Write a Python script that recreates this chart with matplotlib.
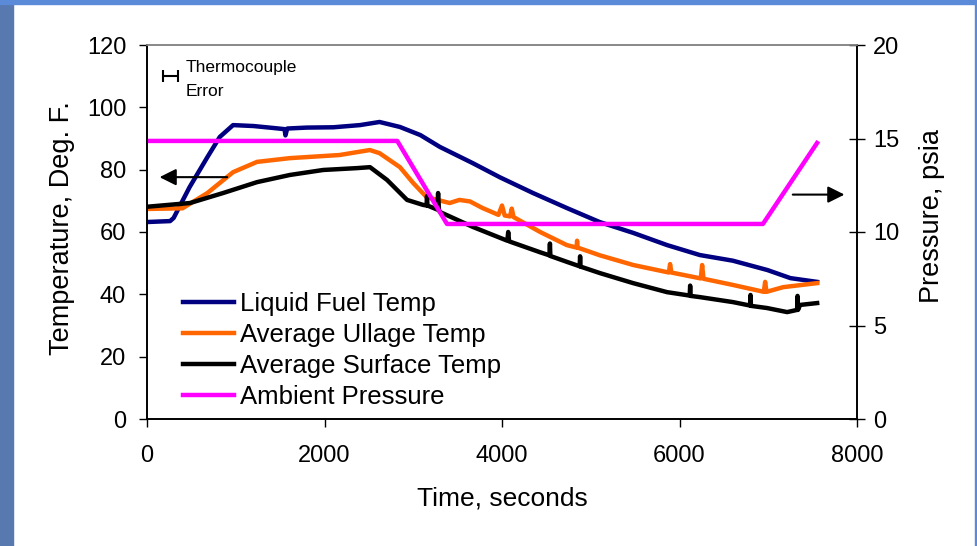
import matplotlib
matplotlib.use("Agg")
import matplotlib.pyplot as plt
from matplotlib.patches import Rectangle

plt.rcParams['font.family'] = ['Liberation Sans', 'DejaVu Sans']

# Liquid fuel temperature (deg F) vs time (s)
fuel_t = [0, 260, 300, 480, 680, 820, 970, 1200, 1450, 1550, 1560, 1580, 1800, 2100,
          2400, 2620, 2850, 3080, 3300, 3670, 3980, 4350, 4730, 5100, 5480, 5860,
          6230, 6600, 6990, 7250, 7550]
fuel_T = [63.2, 63.5, 64.5, 74.4, 84.0, 90.5, 94.3, 94.0, 93.3, 93.0, 91.0, 93.2, 93.5, 93.6,
          94.3, 95.3, 93.7, 91.1, 87.3, 82.1, 77.5, 72.5, 67.7, 63.2, 59.7, 55.8,
          52.6, 50.8, 47.8, 45.2, 44.0]

# Average ullage temperature
ull_t = [0, 400, 680, 970, 1240, 1610, 2170, 2510, 2620, 2850, 3000, 3150, 3410, 3520,
         3640, 3780, 3960, 4000, 4030, 4090, 4110, 4130, 4430, 4730, 4840, 4846, 4852,
         5105, 5480, 5880, 5894, 5908, 6240, 6255, 6270, 6604, 6950, 6965, 6980, 7168, 7551]
ull_T = [67.4, 67.6, 72.5, 79.2, 82.5, 83.7, 84.7, 86.3, 85.3, 80.8, 75.7, 71.2, 69.3, 70.3,
         69.8, 67.7, 65.5, 68.5, 65.3, 65.0, 67.5, 64.8, 60.0, 55.8, 55.0, 57.2, 55.0,
         52.5, 49.4, 47.0, 49.7, 47.0, 45.1, 49.4, 45.0, 43.0, 40.8, 44.0, 40.8, 42.3, 43.6]

# Average surface temperature
surf_t = [0, 485, 857, 1240, 1610, 1985, 2367, 2513, 2705, 2930, 3110, 3150, 3155, 3160,
          3270, 3280, 3290, 3302, 3674, 4060, 4070, 4080, 4429, 4535, 4540, 4545, 4733,
          4875, 4880, 4885, 5105, 5477, 5860, 6115, 6120, 6125, 6232, 6604, 6795, 6800,
          6805, 6987, 7213, 7325, 7330, 7335, 7359, 7551]
surf_T = [68.1, 69.3, 72.5, 76.0, 78.3, 79.9, 80.5, 80.8, 76.7, 70.3, 68.7, 68.5, 71.5, 68.5,
          67.2, 72.5, 67.0, 66.4, 61.6, 57.2, 60.0, 57.0, 53.5, 52.5, 56.3, 52.3, 50.4,
          49.0, 52.2, 48.9, 46.8, 43.6, 40.7, 39.6, 42.8, 39.5, 39.1, 37.5, 36.4, 39.8,
          36.3, 35.6, 34.3, 35.0, 39.5, 35.0, 36.6, 37.2]

# Ambient pressure (psia)
pres_t = [0, 2820, 3380, 6940, 7550]
pres_P = [14.87, 14.87, 10.43, 10.43, 14.76]

fig = plt.figure(figsize=(9.77, 5.46), dpi=100)

# slide background strips
fig.patches.append(Rectangle((0, 0), 13 / 977, 1, transform=fig.transFigure,
                             color='#5878b0', zorder=0))
fig.patches.append(Rectangle((0, 1 - 4 / 546), 1, 4 / 546, transform=fig.transFigure,
                             color='#5a8ad8', zorder=0))
fig.patches.append(Rectangle((1 - 2 / 977, 0), 2 / 977, 1, transform=fig.transFigure,
                             color='#5a8ad8', zorder=0))

ax = fig.add_axes([147 / 977, 1 - 419 / 546, 710 / 977, 374 / 546])
ax2 = ax.twinx()

l1, = ax.plot(fuel_t, fuel_T, color='#000080', lw=3.2)
l2, = ax.plot(ull_t, ull_T, color='#ff6600', lw=3.2)
l3, = ax.plot(surf_t, surf_T, color='black', lw=3.2)
l4, = ax2.plot(pres_t, pres_P, color='#ff00ff', lw=3.2)

ax.set_xlim(0, 8000)
ax.set_ylim(0, 120)
ax2.set_ylim(0, 20)
ax.set_xticks(range(0, 8001, 2000))
ax.set_yticks(range(0, 121, 20))
ax2.set_yticks(range(0, 21, 5))

for a in (ax, ax2):
    a.spines['top'].set_color('#888888')
    a.spines['top'].set_linewidth(1.2)
    for s in ('left', 'right', 'bottom'):
        a.spines[s].set_linewidth(1.2)
ax.tick_params(axis='x', direction='out', length=6, width=1, labelsize=17, pad=13)
ax.tick_params(axis='y', direction='out', length=6, width=1, labelsize=17, pad=9)
ax2.tick_params(axis='y', direction='inout', length=11, width=1, labelsize=17, pad=6)

ax.set_xlabel('Time, seconds', fontsize=19)
ax.set_ylabel('Temperature, Deg. F.', fontsize=19.5)
ax2.set_ylabel('Pressure, psia', fontsize=19.5, rotation=90)
ax.xaxis.set_label_coords(0.5, -0.18)
ax.yaxis.set_label_coords(-0.12, 0.511)
ax2.yaxis.set_label_coords(1.106, 0.543)
ax.yaxis.label.set_va('center')
ax2.yaxis.label.set_va('center')

# direction arrows
ax.annotate('', xy=(110, 77.6), xytext=(935, 77.6),
            arrowprops=dict(arrowstyle='-|>', color='black', lw=1.5, mutation_scale=25))
ax2.annotate('', xy=(7890, 12.0), xytext=(7245, 12.0),
             arrowprops=dict(arrowstyle='-|>', color='black', lw=1.5, mutation_scale=25))

# thermocouple error marker
ax.errorbar([0.033], [0.917], xerr=[0.011], transform=ax.transAxes, fmt='none',
            ecolor='black', elinewidth=1.5, capsize=4, capthick=1.5)
ax.text(0.055, 0.941, 'Thermocouple', transform=ax.transAxes, fontsize=12.5, va='center')
ax.text(0.055, 0.877, 'Error', transform=ax.transAxes, fontsize=12.5, va='center')

leg = ax2.legend([l1, l2, l3, l4],
                 ['Liquid Fuel Temp', 'Average Ullage Temp', 'Average Surface Temp',
                  'Ambient Pressure'],
                 loc='upper left', bbox_to_anchor=(0.05, 0.34), frameon=False,
                 fontsize=18.5, handlelength=2.0, handletextpad=0.25,
                 labelspacing=0.27, borderpad=0, borderaxespad=0)

fig.savefig('out.png', dpi=100)
